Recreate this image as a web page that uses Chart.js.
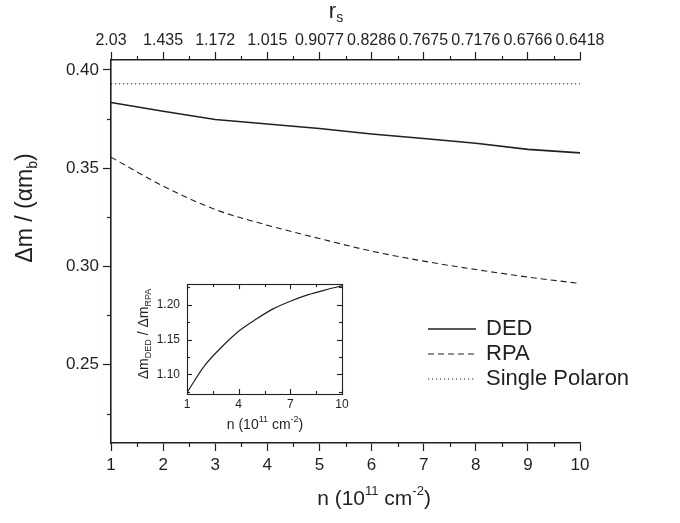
<!DOCTYPE html>
<html><head><meta charset="utf-8">
<script src="https://cdn.jsdelivr.net/npm/chart.js@4/dist/chart.umd.min.js"></script>
<style>
html,body{margin:0;padding:0;background:#fff;}
#wrap{position:relative;width:680px;height:523px;overflow:hidden;}
#main{position:absolute;left:0;top:0;}
#inset{position:absolute;left:120px;top:270px;}
</style></head><body>
<div id="wrap">
<canvas id="main" width="680" height="523"></canvas>
<canvas id="inset" width="250" height="170"></canvas>
</div>
<script>
// ---- data ----
const nValues = [1, 2, 3, 4, 5, 6, 7, 8, 9, 10];
const dedValues = [0.3834, 0.3789, 0.3747, 0.3724, 0.3701, 0.3673, 0.3650, 0.3626, 0.3595, 0.3577];
const rpaValues = [0.3555, 0.3408, 0.3289, 0.3209, 0.3141, 0.3077, 0.3026, 0.2983, 0.2945, 0.2912];
const singlePolaronN = [1, 10];
const singlePolaronValues = [0.3929, 0.3929];
const seriesLabels = ['DED', 'RPA', 'Single Polaron'];
const rsTickLabels = ['2.03', '1.435', '1.172', '1.015', '0.9077', '0.8286', '0.7675', '0.7176', '0.6766', '0.6418'];
const nTicks = [1, 2, 3, 4, 5, 6, 7, 8, 9, 10];
const nMinorTicks = [1.5, 2.5, 3.5, 4.5, 5.5, 6.5, 7.5, 8.5, 9.5];
const yTicks = [0.25, 0.30, 0.35, 0.40];
const yMinorTicks = [0.225, 0.275, 0.325, 0.375];
// inset
const ratioValues = [1.074, 1.112, 1.139, 1.162, 1.179, 1.194, 1.205, 1.214, 1.221, 1.227];
const insetXTicks = [1, 4, 7, 10];
const insetXMinor = [2.5, 5.5, 8.5];
const insetYTicks = [1.10, 1.15, 1.20];
const insetYMinor = [1.075, 1.125, 1.175, 1.225];

const FONT = '"Liberation Sans", Arial, Helvetica, sans-serif';
const TEXT = '#231f20';
const LINE = '#231f20';
Chart.defaults.font.family = FONT;
Chart.defaults.color = TEXT;

function pts(xs, ys) { return xs.map((x, i) => ({x: x, y: ys[i]})); }

function drawRich(ctx, segs, cx, cy, size, angle) {
  ctx.save();
  ctx.translate(cx, cy);
  if (angle) ctx.rotate(angle);
  const fontFor = s => (s.k ? Math.round(size * 0.62) : size) + 'px ' + FONT;
  let total = 0;
  segs.forEach(s => { ctx.font = fontFor(s); s.w = ctx.measureText(s.t).width; total += s.w; });
  let x = -total / 2;
  ctx.textBaseline = 'middle'; ctx.textAlign = 'left'; ctx.fillStyle = TEXT;
  segs.forEach(s => {
    ctx.font = fontFor(s);
    const dy = s.k === 'sup' ? -size * 0.36 : (s.k === 'sub' ? size * 0.3 : 0);
    ctx.fillText(s.t, x, dy);
    x += s.w;
  });
  ctx.restore();
}

function tickLine(ctx, x1, y1, x2, y2) {
  ctx.beginPath(); ctx.moveTo(x1, y1); ctx.lineTo(x2, y2); ctx.stroke();
}

// ---- main chart ----
const mainDecor = {
  id: 'mainDecor',
  afterDraw(chart) {
    const ctx = chart.ctx;
    const xs = chart.scales.x, ys = chart.scales.y;
    const ca = chart.chartArea;
    ctx.save();
    ctx.strokeStyle = LINE; ctx.lineWidth = 1.2;
    nMinorTicks.forEach(v => {
      const px = Math.round(xs.getPixelForValue(v)) + 0.5;
      tickLine(ctx, px, ca.bottom, px, ca.bottom + 4);
      tickLine(ctx, px, ca.top, px, ca.top - 4);
    });
    yMinorTicks.forEach(v => {
      const py = Math.round(ys.getPixelForValue(v)) + 0.5;
      tickLine(ctx, ca.left, py, ca.left - 4, py);
    });
    ctx.restore();

    // titles
    drawRich(ctx, [{t: 'n (10'}, {t: '11', k: 'sup'}, {t: ' cm'}, {t: '-2', k: 'sup'}, {t: ')'}], 374, 499, 21, 0);
    drawRich(ctx, [{t: 'r'}, {t: 's', k: 'sub'}], 336, 12, 22, 0);
    drawRich(ctx, [{t: '\u0394m / (\u03b1m'}, {t: 'b', k: 'sub'}, {t: ')'}], 26, 208, 23, -Math.PI / 2);

    // legend
    const legendY = [329, 354, 379];
    chart.data.datasets.forEach((ds, i) => {
      const y = legendY[i];
      ctx.save();
      ctx.strokeStyle = ds.borderColor; ctx.lineWidth = ds.borderWidth;
      ctx.setLineDash(ds.borderDash || []);
      tickLine(ctx, 428, y, 476, y);
      ctx.restore();
      ctx.save();
      ctx.font = '22px ' + FONT; ctx.fillStyle = TEXT;
      ctx.textBaseline = 'middle'; ctx.textAlign = 'left';
      ctx.fillText(ds.label, 486, y);
      ctx.restore();
    });
  }
};

new Chart(document.getElementById('main'), {
  type: 'line',
  data: {
    datasets: [
      {label: seriesLabels[0], data: pts(nValues, dedValues), borderColor: LINE, borderWidth: 1.6, pointRadius: 0, tension: 0, xAxisID: 'x', yAxisID: 'y'},
      {label: seriesLabels[1], data: pts(nValues, rpaValues), borderColor: LINE, borderWidth: 1.1, borderDash: [6, 4], pointRadius: 0, cubicInterpolationMode: 'monotone', xAxisID: 'x', yAxisID: 'y'},
      {label: seriesLabels[2], data: pts(singlePolaronN, singlePolaronValues), borderColor: LINE, borderWidth: 1.1, borderDash: [1.2, 2.8], pointRadius: 0, xAxisID: 'x', yAxisID: 'y'}
    ]
  },
  options: {
    responsive: false, animation: false, devicePixelRatio: 1,
    layout: {padding: {left: 0, right: 100, top: 0, bottom: 0}},
    plugins: {legend: {display: false}, tooltip: {enabled: false}},
    scales: {
      x: {
        type: 'linear', position: 'bottom', min: 1, max: 10,
        afterBuildTicks: s => { s.ticks = nTicks.map(v => ({value: v})); },
        afterFit: s => { s.height = 80; },
        ticks: {font: {size: 17}, color: TEXT, padding: 4, maxRotation: 0, callback: v => String(v)},
        grid: {drawOnChartArea: false, drawTicks: true, tickLength: 8, tickColor: LINE, tickWidth: 1.2},
        border: {display: true, color: LINE, width: 1.6}
      },
      x2: {
        type: 'linear', position: 'top', min: 1, max: 10,
        afterBuildTicks: s => { s.ticks = nTicks.map(v => ({value: v})); },
        afterFit: s => { s.height = 60; },
        ticks: {font: {size: 16}, color: TEXT, padding: 2, maxRotation: 0,
          callback: (v, i) => rsTickLabels[i]},
        grid: {drawOnChartArea: false, drawTicks: true, tickLength: 8, tickColor: LINE, tickWidth: 1.2},
        border: {display: true, color: LINE, width: 1.6}
      },
      y: {
        type: 'linear', position: 'left', min: 0.21, max: 0.405,
        afterBuildTicks: s => { s.ticks = yTicks.map(v => ({value: v})); },
        afterFit: s => { s.width = 111; },
        ticks: {font: {size: 17}, color: TEXT, padding: 4, callback: v => v.toFixed(2)},
        grid: {drawOnChartArea: false, drawTicks: true, tickLength: 8, tickColor: LINE, tickWidth: 1.2},
        border: {display: true, color: LINE, width: 1.6}
      }
    }
  },
  plugins: [mainDecor]
});

// ---- inset chart ----
const insetDecor = {
  id: 'insetDecor',
  afterDraw(chart) {
    const ctx = chart.ctx;
    const xs = chart.scales.x, ys = chart.scales.y;
    const ca = chart.chartArea;
    ctx.save();
    ctx.strokeStyle = LINE; ctx.lineWidth = 1.1;
    ctx.strokeRect(Math.round(ca.left) + 0.5, Math.round(ca.top) + 0.5, Math.round(ca.right - ca.left), Math.round(ca.bottom - ca.top));
    const xt = (arr, len) => arr.forEach(v => {
      const px = Math.round(xs.getPixelForValue(v)) + 0.5;
      tickLine(ctx, px, ca.bottom, px, ca.bottom - len);
      tickLine(ctx, px, ca.top, px, ca.top + len);
    });
    const yt = (arr, len) => arr.forEach(v => {
      const py = Math.round(ys.getPixelForValue(v)) + 0.5;
      tickLine(ctx, ca.left, py, ca.left + len, py);
      tickLine(ctx, ca.right, py, ca.right - len, py);
    });
    xt(insetXTicks, 5); xt(insetXMinor, 3);
    yt(insetYTicks, 5); yt(insetYMinor, 3);
    ctx.restore();
    drawRich(ctx, [{t: 'n (10'}, {t: '11', k: 'sup'}, {t: ' cm'}, {t: '-2', k: 'sup'}, {t: ')'}], 145, 155, 14, 0);
    drawRich(ctx, [{t: '\u0394m'}, {t: 'DED', k: 'sub'}, {t: ' / \u0394m'}, {t: 'RPA', k: 'sub'}], 24, 64, 14, -Math.PI / 2);
  }
};

new Chart(document.getElementById('inset'), {
  type: 'line',
  data: {
    datasets: [
      {label: 'ratio', data: pts(nValues, ratioValues), borderColor: LINE, borderWidth: 1.2, pointRadius: 0, cubicInterpolationMode: 'monotone'}
    ]
  },
  options: {
    responsive: false, animation: false, devicePixelRatio: 1,
    layout: {padding: {left: 0, right: 28, top: 13, bottom: 0}},
    plugins: {legend: {display: false}, tooltip: {enabled: false}},
    scales: {
      x: {
        type: 'linear', min: 1, max: 10,
        afterBuildTicks: s => { s.ticks = insetXTicks.map(v => ({value: v})); },
        afterFit: s => { s.height = 46; },
        ticks: {font: {size: 12}, color: TEXT, padding: 3, maxRotation: 0, callback: v => String(v)},
        grid: {display: false, drawTicks: false},
        border: {display: false}
      },
      y: {
        type: 'linear', min: 1.072, max: 1.2294,
        afterBuildTicks: s => { s.ticks = insetYTicks.map(v => ({value: v})); },
        afterFit: s => { s.width = 67; },
        ticks: {font: {size: 12}, color: TEXT, padding: 7, callback: v => v.toFixed(2)},
        grid: {display: false, drawTicks: false},
        border: {display: false}
      }
    }
  },
  plugins: [insetDecor]
});
</script>
</body></html>
